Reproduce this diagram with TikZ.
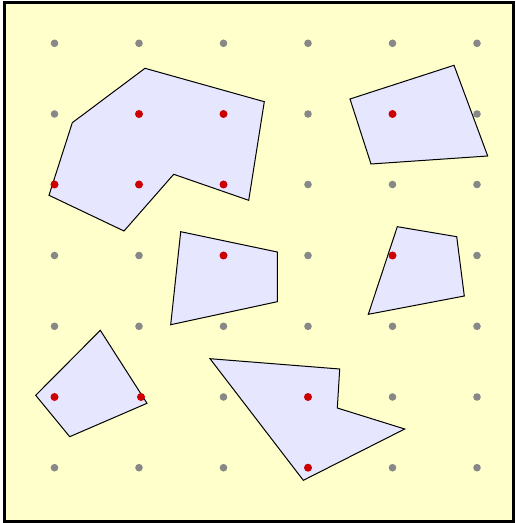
\documentclass[tikz,border=0pt]{standalone}
\begin{document}
\begin{tikzpicture}[x=0.75pt,y=-0.75pt,
  poly/.style={draw=black,fill=polyfill,line width=0.75pt,line join=miter},
  gdot/.style={fill=dotgrey},
  rdot/.style={fill=dotred}]
\definecolor{bgyellow}{HTML}{FFFFCC}
\definecolor{polyfill}{HTML}{E6E6FF}
\definecolor{dotgrey}{HTML}{888888}
\definecolor{dotred}{HTML}{CC0000}
\useasboundingbox (0,0) rectangle (515,523);
\fill[white] (0,0) rectangle (515,523);
\draw[fill=bgyellow,line width=2.25pt] (4.5,3) rectangle (513,521);
% grey grid dots
\foreach \x in {54.5,139,223.5,308,392.5,477}
  \foreach \y in {43.3,114,184.5,255.5,326.3,397,467.7}
    \fill[gdot] (\x,\y) circle (3.8);
% polygons
\draw[poly] (72.3,122.7) -- (145,68.3) -- (264.3,101.7) -- (248.7,200.3) -- (173.7,174.3) -- (124,231) -- (49,195.3) -- cycle;
\draw[poly] (350,99) -- (454,65.3) -- (487.7,156) -- (371,164) -- cycle;
\draw[poly] (180.7,231.7) -- (277.3,252) -- (277.3,301.7) -- (170.7,324.7) -- cycle;
\draw[poly] (397.3,226.7) -- (456.7,236.7) -- (464.3,296) -- (368.3,314.3) -- cycle;
\draw[poly] (100.3,330.3) -- (147,403.3) -- (69.7,436.7) -- (35.7,395.3) -- cycle;
\draw[poly] (210,358.7) -- (339.7,369) -- (337.3,408) -- (404.7,429) -- (303.3,480.3) -- cycle;
% red dots
\foreach \p in {(139,114),(223.5,114),(54.5,184.5),(139,184.5),(223.5,184.5),(392.5,114),(223.5,255.5),(392.5,255.5),(54.5,397),(141,397),(308,397),(308,467.7)}
  \fill[rdot] \p circle (4);
\end{tikzpicture}
\end{document}
